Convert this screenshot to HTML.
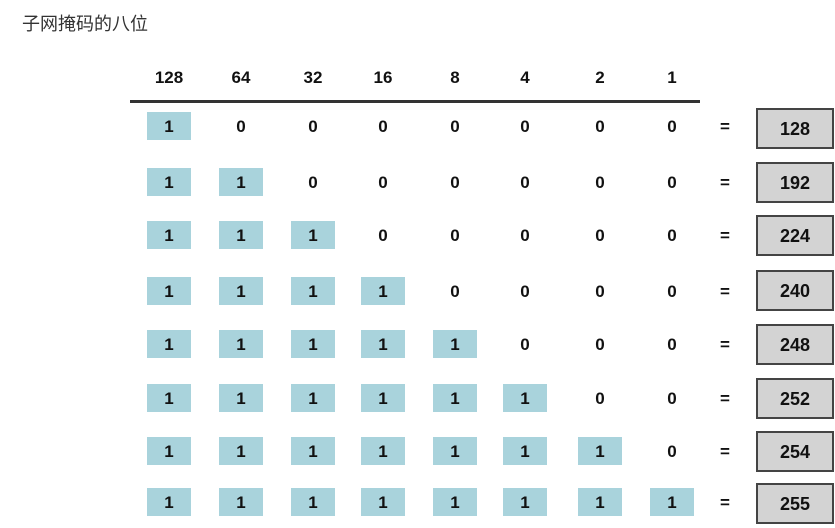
<!DOCTYPE html>
<html><head><meta charset="utf-8"><style>
body{margin:0;width:835px;height:528px;background:#fff;position:relative;overflow:hidden;font-family:"Liberation Sans","Noto Sans CJK SC",sans-serif}
.t{position:absolute;left:22px;top:10px;font-size:18px;color:#333}
.c,.b{position:absolute;width:44px;height:28px;line-height:30px;text-align:center;font-weight:bold;font-size:17px;color:#111;margin-left:-22px;margin-top:-14px}
.b{background:#a9d3dc}
.r{position:absolute;left:756px;width:74px;height:37px;line-height:39px;border:2px solid #444;background:#d3d3d3;text-align:center;font-weight:bold;font-size:18px;color:#111;margin-top:-20px}
.line{position:absolute;left:130px;top:100px;width:570px;height:3px;background:#333}
</style></head><body>
<div class="t">子网掩码的八位</div>
<div class="line"></div>
<div class="c" style="left:169px;top:77px">128</div><div class="c" style="left:241px;top:77px">64</div><div class="c" style="left:313px;top:77px">32</div><div class="c" style="left:383px;top:77px">16</div><div class="c" style="left:455px;top:77px">8</div><div class="c" style="left:525px;top:77px">4</div><div class="c" style="left:600px;top:77px">2</div><div class="c" style="left:672px;top:77px">1</div>

<div class="b" style="left:169px;top:126px">1</div><div class="c" style="left:241px;top:126px">0</div><div class="c" style="left:313px;top:126px">0</div><div class="c" style="left:383px;top:126px">0</div><div class="c" style="left:455px;top:126px">0</div><div class="c" style="left:525px;top:126px">0</div><div class="c" style="left:600px;top:126px">0</div><div class="c" style="left:672px;top:126px">0</div><div class="c" style="left:725px;top:126px">=</div><div class="r" style="top:128px">128</div>

<div class="b" style="left:169px;top:182px">1</div><div class="b" style="left:241px;top:182px">1</div><div class="c" style="left:313px;top:182px">0</div><div class="c" style="left:383px;top:182px">0</div><div class="c" style="left:455px;top:182px">0</div><div class="c" style="left:525px;top:182px">0</div><div class="c" style="left:600px;top:182px">0</div><div class="c" style="left:672px;top:182px">0</div><div class="c" style="left:725px;top:182px">=</div><div class="r" style="top:182px">192</div>

<div class="b" style="left:169px;top:235px">1</div><div class="b" style="left:241px;top:235px">1</div><div class="b" style="left:313px;top:235px">1</div><div class="c" style="left:383px;top:235px">0</div><div class="c" style="left:455px;top:235px">0</div><div class="c" style="left:525px;top:235px">0</div><div class="c" style="left:600px;top:235px">0</div><div class="c" style="left:672px;top:235px">0</div><div class="c" style="left:725px;top:235px">=</div><div class="r" style="top:235px">224</div>

<div class="b" style="left:169px;top:291px">1</div><div class="b" style="left:241px;top:291px">1</div><div class="b" style="left:313px;top:291px">1</div><div class="b" style="left:383px;top:291px">1</div><div class="c" style="left:455px;top:291px">0</div><div class="c" style="left:525px;top:291px">0</div><div class="c" style="left:600px;top:291px">0</div><div class="c" style="left:672px;top:291px">0</div><div class="c" style="left:725px;top:291px">=</div><div class="r" style="top:290px">240</div>

<div class="b" style="left:169px;top:344px">1</div><div class="b" style="left:241px;top:344px">1</div><div class="b" style="left:313px;top:344px">1</div><div class="b" style="left:383px;top:344px">1</div><div class="b" style="left:455px;top:344px">1</div><div class="c" style="left:525px;top:344px">0</div><div class="c" style="left:600px;top:344px">0</div><div class="c" style="left:672px;top:344px">0</div><div class="c" style="left:725px;top:344px">=</div><div class="r" style="top:344px">248</div>

<div class="b" style="left:169px;top:398px">1</div><div class="b" style="left:241px;top:398px">1</div><div class="b" style="left:313px;top:398px">1</div><div class="b" style="left:383px;top:398px">1</div><div class="b" style="left:455px;top:398px">1</div><div class="b" style="left:525px;top:398px">1</div><div class="c" style="left:600px;top:398px">0</div><div class="c" style="left:672px;top:398px">0</div><div class="c" style="left:725px;top:398px">=</div><div class="r" style="top:398px">252</div>

<div class="b" style="left:169px;top:451px">1</div><div class="b" style="left:241px;top:451px">1</div><div class="b" style="left:313px;top:451px">1</div><div class="b" style="left:383px;top:451px">1</div><div class="b" style="left:455px;top:451px">1</div><div class="b" style="left:525px;top:451px">1</div><div class="b" style="left:600px;top:451px">1</div><div class="c" style="left:672px;top:451px">0</div><div class="c" style="left:725px;top:451px">=</div><div class="r" style="top:451px">254</div>

<div class="b" style="left:169px;top:502px">1</div><div class="b" style="left:241px;top:502px">1</div><div class="b" style="left:313px;top:502px">1</div><div class="b" style="left:383px;top:502px">1</div><div class="b" style="left:455px;top:502px">1</div><div class="b" style="left:525px;top:502px">1</div><div class="b" style="left:600px;top:502px">1</div><div class="b" style="left:672px;top:502px">1</div><div class="c" style="left:725px;top:502px">=</div><div class="r" style="top:503px">255</div>
</body></html>
